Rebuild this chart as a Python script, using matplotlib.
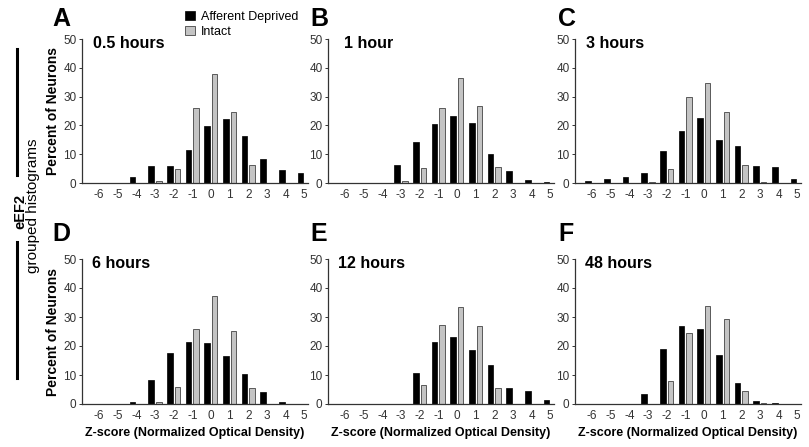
import matplotlib
matplotlib.use("Agg")
import matplotlib.pyplot as plt
import numpy as np
from matplotlib.lines import Line2D
from matplotlib.patches import Patch

plt.rcParams['font.family'] = ['Liberation Sans', 'DejaVu Sans']

zscores = [-6, -5, -4, -3, -2, -1, 0, 1, 2, 3, 4, 5]
panel_letters = ["A", "B", "C", "D", "E", "F"]
panel_titles = ["0.5 hours", "1 hour", "3 hours", "6 hours", "12 hours", "48 hours"]

deprived_05h = [0, 0, 2.0, 6.0, 5.8, 11.3, 19.7, 22.1, 16.2, 8.4, 4.5, 3.3]
intact_05h   = [0, 0, 0, 0.6, 5.0, 26.0, 37.7, 24.8, 6.1, 0, 0, 0]
deprived_1h  = [0, 0, 0, 6.1, 14.3, 20.6, 23.4, 20.9, 10.0, 4.0, 1.2, 0.4]
intact_1h    = [0, 0, 0, 0.8, 5.2, 26.0, 36.6, 26.9, 5.5, 0, 0, 0]
deprived_3h  = [0.6, 1.5, 2.1, 3.5, 11.1, 18.0, 22.6, 14.9, 12.8, 6.0, 5.4, 1.4]
intact_3h    = [0, 0, 0, 0.3, 4.9, 29.8, 34.6, 24.5, 6.2, 0.3, 0, 0]
deprived_6h  = [0, 0, 0.8, 8.2, 17.5, 21.5, 21.0, 16.4, 10.5, 4.0, 0.8, 0]
intact_6h    = [0, 0, 0, 0.6, 5.9, 25.9, 37.4, 25.2, 5.5, 0, 0, 0]
deprived_12h = [0, 0, 0, 0, 10.6, 21.5, 23.1, 18.6, 13.4, 5.6, 4.5, 1.5]
intact_12h   = [0, 0, 0, 0, 6.6, 27.2, 33.4, 26.9, 5.6, 0, 0, 0]
deprived_48h = [0, 0, 0, 3.4, 19.0, 26.9, 25.7, 16.9, 7.1, 0.9, 0.5, 0]
intact_48h   = [0, 0, 0, 0, 7.9, 24.4, 33.9, 29.2, 4.4, 0.4, 0, 0]

deprived = [deprived_05h, deprived_1h, deprived_3h, deprived_6h, deprived_12h, deprived_48h]
intact = [intact_05h, intact_1h, intact_3h, intact_6h, intact_12h, intact_48h]

W, H = 809, 447
fig = plt.figure(figsize=(W / 100, H / 100), dpi=100)

lefts = [82, 328, 575]
axw = 226
rows = [(183, 144), (404, 145)]  # (y of zero in px, height px)
title_off = [0.048, 0.07, 0.05, 0.045, 0.045, 0.045]

x = np.array(zscores, dtype=float)
for i in range(6):
    r, c = divmod(i, 3)
    y0, h = rows[r]
    ax = fig.add_axes([lefts[c] / W, 1 - y0 / H, axw / W, h / H])
    ax.bar(x - 0.2, deprived[i], width=0.3, color='black', edgecolor='black', linewidth=0.5)
    ax.bar(x + 0.2, intact[i], width=0.3, color='#c4c4c4', edgecolor='#444444', linewidth=0.6)
    ax.set_xlim(-6.91, 5.2)
    ax.set_ylim(0, 50)
    ax.set_xticks(zscores)
    ax.set_xticklabels([str(z) for z in zscores])
    ax.set_yticks([0, 10, 20, 30, 40, 50])
    ax.tick_params(axis='x', length=0, pad=4, labelsize=8.5, colors='#333333')
    ax.tick_params(axis='y', length=2.5, width=0.7, pad=1.5, labelsize=8.5, colors='#333333', direction='out')
    for s in ['top', 'right']:
        ax.spines[s].set_visible(False)
    for s in ['left', 'bottom']:
        ax.spines[s].set_color('#333333')
        ax.spines[s].set_linewidth(0.9)
    ax.text(title_off[i], 0.97, panel_titles[i], transform=ax.transAxes,
            fontsize=11.5, fontweight='bold', va='center', ha='left')
    if c == 0:
        ax.set_ylabel("Percent of Neurons", fontsize=10, fontweight='bold', labelpad=2)
    if r == 1:
        ax.set_xlabel("Z-score (Normalized Optical Density)", fontsize=9, fontweight='bold', labelpad=4)
    lx = [52, 310, 558][c]
    ly = [19, 234][r]
    fig.text(lx / W, 1 - ly / H, panel_letters[i], fontsize=18, fontweight='bold',
             va='center', ha='left')

# legend
handles = [Patch(facecolor='black', edgecolor='black', linewidth=0.5),
           Patch(facecolor='#c4c4c4', edgecolor='#444444', linewidth=0.6)]
fig.legend(handles, ["Afferent Deprived", "Intact"], loc='upper left',
           bbox_to_anchor=(182 / W, 1 - 8 / H), frameon=False, fontsize=9,
           handlelength=0.8, handleheight=0.8, handletextpad=0.5, labelspacing=0.25,
           borderaxespad=0, borderpad=0.2)

# left side labels
fig.add_artist(Line2D([17 / W, 17 / W], [1 - 49 / H, 1 - 175 / H], color='black', linewidth=2.2))
fig.add_artist(Line2D([17 / W, 17 / W], [1 - 242 / H, 1 - 378 / H], color='black', linewidth=2.2))
fig.text(20 / W, 1 - 211 / H, "eEF2", rotation=90, fontsize=10.5, fontweight='bold',
         va='center', ha='center')
fig.text(33 / W, 1 - 206 / H, "grouped histograms", rotation=90, fontsize=11,
         va='center', ha='center')

fig.savefig("out.png", dpi=100)
